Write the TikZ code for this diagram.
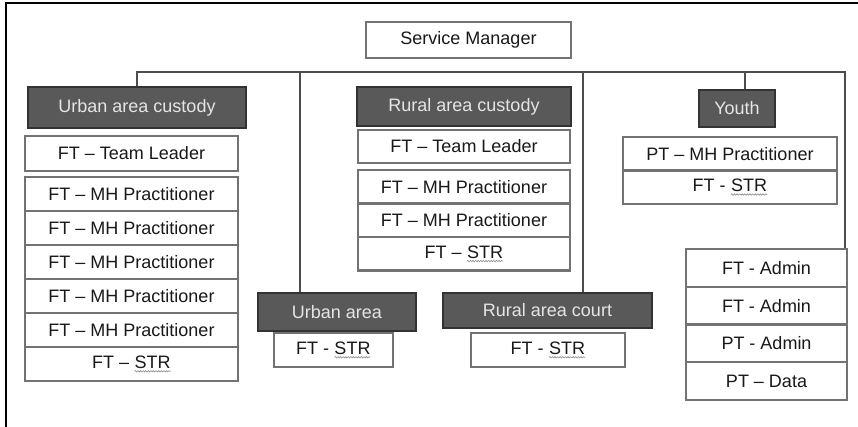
\documentclass[tikz,border=0pt]{standalone}
\usepackage{fontspec}
\setmainfont{Liberation Sans}
\usetikzlibrary{decorations.pathmorphing}
\newcommand{\spell}[1]{\tikz[baseline=(w.base)]{\node[inner sep=0pt, outer sep=0pt, minimum width=0pt, minimum height=0pt, draw=none, fill=none] (w) {#1}; \draw[black!45, line width=0.6pt, decorate, decoration={snake, amplitude=0.7pt, segment length=2.6pt}] ([yshift=-3pt]w.base west) -- ([yshift=-3pt]w.base east);}}

\begin{document}
\begin{tikzpicture}[x=1pt, y=-1pt,
  post/.style={draw=black!55, line width=2.4pt, fill=white, inner sep=0pt, text=black!90, font=\fontsize{18}{21}\selectfont},
  unit/.style={draw=black!80, line width=2.4pt, fill=black!65, inner sep=0pt, text=black!10, font=\fontsize{18}{21}\selectfont},
  link/.style={draw=black!70, line width=1.3pt}]
\useasboundingbox (0,0) rectangle (858,427);
\draw[line width=2.5pt] (858,3) -| (6,427);
\node[post, minimum width=205, minimum height=36] (sm) at (468.5,40) {Service Manager};
\coordinate (busW) at (137,72);
\coordinate (busU) at (300,72);
\coordinate (busR) at (583,72);
\coordinate (busY) at (745,72);
\coordinate (busE) at (845,72);
\node[unit, minimum width=218, minimum height=41] (uac) at (137,107.5) {Urban area custody};
\node[post, minimum width=213, minimum height=35] (utl) at (131.5,153.5) {FT -- Team Leader};
\node[post, minimum width=213, minimum height=34] (ump1) at (131.5,194) {FT -- MH Practitioner};
\node[post, minimum width=213, minimum height=34] (ump2) at (131.5,228) {FT -- MH Practitioner};
\node[post, minimum width=213, minimum height=34] (ump3) at (131.5,262) {FT -- MH Practitioner};
\node[post, minimum width=213, minimum height=34] (ump4) at (131.5,296) {FT -- MH Practitioner};
\node[post, minimum width=213, minimum height=34] (ump5) at (131.5,330) {FT -- MH Practitioner};
\node[post, minimum width=213, minimum height=34] (ustr) at (131.5,364) {FT -- \spell{STR}};
\node[unit, minimum width=214, minimum height=39] (rac) at (464,106.5) {Rural area custody};
\node[post, minimum width=212, minimum height=33] (rtl) at (464,146.5) {FT -- Team Leader};
\node[post, minimum width=212, minimum height=33.5] (rmp1) at (464,186.75) {FT -- MH Practitioner};
\node[post, minimum width=212, minimum height=33.5] (rmp2) at (464,220.25) {FT -- MH Practitioner};
\node[post, minimum width=212, minimum height=33.5] (rstr) at (464,253.75) {FT -- \spell{STR}};
\node[unit, minimum width=158, minimum height=38] (ua) at (337,312) {Urban area};
\node[post, minimum width=119, minimum height=34] (uastr) at (333.5,350) {FT - \spell{STR}};
\node[unit, minimum width=209, minimum height=35] (rc) at (547.5,310.5) {Rural area court};
\node[post, minimum width=154, minimum height=34] (rcstr) at (548,350) {FT - \spell{STR}};
\node[unit, minimum width=76, minimum height=37] (yth) at (737,108.5) {Youth};
\node[post, minimum width=214, minimum height=33.5] (ymp) at (730,153.75) {PT -- MH Practitioner};
\node[post, minimum width=214, minimum height=33.5] (ystr) at (730,187.25) {FT - \spell{STR}};
\node[post, minimum width=161, minimum height=37.75] (adm1) at (766.5,267.9) {FT - Admin};
\node[post, minimum width=161, minimum height=37.75] (adm2) at (766.5,305.6) {FT - Admin};
\node[post, minimum width=161, minimum height=37.75] (adm3) at (766.5,343.4) {PT - Admin};
\node[post, minimum width=161, minimum height=37.75] (dat) at (766.5,381.1) {PT -- Data};
\draw[link] (uac.north) |- (busE) -- (busE |- adm1.north);
\draw[link] (busU) -- (busU |- ua.north);
\draw[link] (busR) -- (busR |- rc.north);
\draw[link] (busY) -- (busY |- yth.north);
\end{tikzpicture}
\end{document}
